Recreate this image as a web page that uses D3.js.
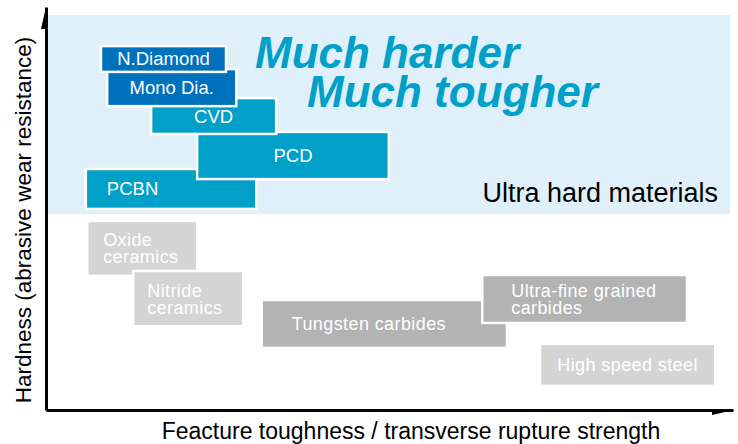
<!DOCTYPE html>
<html>
<head>
<meta charset="utf-8">
<script src="https://cdn.jsdelivr.net/npm/d3@7"></script>
<style>
  body { margin: 0; background: #fff; }
  svg { display: block; font-family: "Liberation Sans", Arial, Helvetica, sans-serif; }
</style>
</head>
<body>
<div class="chart"></div>
<script>
// materials, toughness (x) and hardness (y) ranges in arbitrary 0-100 units
const names = ["Oxide\nceramics", "Nitride\nceramics", "Tungsten carbides", "Ultra-fine grained\ncarbides", "High speed steel",
               "PCBN", "PCD", "CVD", "Mono Dia.", "N.Diamond"];
const groups = ["light", "light", "dark", "dark", "light", "ultra", "ultra", "ultra", "nd", "nd"];
const toughLo = [6.0, 12.7, 31.4, 63.5, 71.9, 5.8, 22.0, 15.3, 8.9, 8.0];
const toughHi = [22.0, 28.7, 67.1, 93.3, 97.4, 30.6, 49.9, 33.5, 27.7, 26.2];
const hardLo = [33.3, 20.8, 15.4, 21.6, 6.0, 49.9, 57.3, 68.5, 75.4, 83.9];
const hardHi = [46.9, 34.5, 27.3, 33.5, 16.4, 59.8, 69.0, 77.4, 84.6, 90.3];
const zoneTough = [0, 99.6];
const zoneHard = [48.6, 98.0];

const draw = () => {
    d3.select('.chart > *').remove();
    const width = 738, height = 444;
    const svg = d3.select(".chart")
        .append("svg")
        .attr("width", width)
        .attr("height", height);

    const x = d3.scaleLinear().domain([0, 100]).range([46, 733]);
    const y = d3.scaleLinear().domain([0, 100]).range([410, 7]);

    const fills = { light: "#d4d4d4", dark: "#b3b3b3", ultra: "#00a0c9", nd: "#0071bd" };
    // label placement per material
    const align = {
        "PCBN": ["start", 21], "Oxide\nceramics": ["start", 16], "Nitride\nceramics": ["start", 14],
        "Ultra-fine grained\ncarbides": ["start", 29], "Tungsten carbides": ["start", 30]
    };
    const lineGap = 17;

    // ultra hard zone
    svg.append("rect")
        .attr("x", x(zoneTough[0]))
        .attr("y", y(zoneHard[1]))
        .attr("width", x(zoneTough[1]) - x(zoneTough[0]))
        .attr("height", y(zoneHard[0]) - y(zoneHard[1]))
        .attr("fill", "#dff0fa");

    const data = names.map((n, i) => ({
        name: n, group: groups[i],
        x0: toughLo[i], x1: toughHi[i], y0: hardLo[i], y1: hardHi[i]
    }));

    svg.selectAll(".box")
        .data(data)
        .enter()
        .append("rect")
        .attr("class", "box")
        .attr("x", d => x(d.x0))
        .attr("y", d => y(d.y1))
        .attr("width", d => x(d.x1) - x(d.x0))
        .attr("height", d => y(d.y0) - y(d.y1))
        .attr("fill", d => fills[d.group])
        .attr("stroke", "#fff")
        .attr("stroke-width", 2.5);

    const labels = svg.selectAll(".label")
        .data(data)
        .enter()
        .append("text")
        .attr("class", "label")
        .attr("fill", "#fff")
        .attr("font-size", d => d.group === "light" || d.group === "dark" ? 18 : 18.5)
        .attr("letter-spacing", d => d.group === "light" || d.group === "dark" ? 0.4 : 0)
        .attr("text-anchor", d => align[d.name] ? "start" : "middle")
        .attr("transform", d => {
            const a = align[d.name];
            const tx = a ? x(d.x0) + a[1] : (x(d.x0) + x(d.x1)) / 2;
            const lines = d.name.split("\n").length;
            const ty = (y(d.y0) + y(d.y1)) / 2 + 6.5 - (lines - 1) * lineGap / 2;
            return "translate(" + tx + "," + ty + ")";
        });
    labels.each(function (d) {
        d3.select(this).selectAll("tspan")
            .data(d.name.split("\n"))
            .enter()
            .append("tspan")
            .attr("x", 0)
            .attr("y", (t, i) => i * lineGap)
            .text(t => t);
    });

    svg.append("text")
        .attr("x", 255).attr("y", 68)
        .attr("font-size", 44).attr("font-weight", "bold").attr("font-style", "italic")
        .attr("fill", "#00a0c9")
        .text("Much harder");
    svg.append("text")
        .attr("x", 307).attr("y", 107)
        .attr("font-size", 44).attr("font-weight", "bold").attr("font-style", "italic")
        .attr("fill", "#00a0c9")
        .text("Much tougher");
    svg.append("text")
        .attr("x", 718).attr("y", 202)
        .attr("text-anchor", "end")
        .attr("font-size", 27)
        .attr("fill", "#000")
        .text("Ultra hard materials");

    // axes
    svg.append("g")
        .attr("transform", "translate(0," + y(0) + ")")
        .call(d3.axisBottom(x).tickValues([]).tickSizeOuter(0));
    svg.append("g")
        .attr("transform", "translate(" + x(0) + ",0)")
        .call(d3.axisLeft(y).tickValues([]).tickSizeOuter(0));
    svg.selectAll(".domain").attr("stroke", "#000").attr("stroke-width", 3);

    const [xa, xb] = x.range(), [ya, yb] = y.range();
    svg.append("path")
        .attr("d", "M" + (xb + 1) + "," + ya + "L" + (xb - 21) + "," + (ya + 5) + "L" + (xb - 21) + "," + (ya - 1) + "Z")
        .attr("fill", "#000");
    svg.append("path")
        .attr("d", "M" + xa + "," + yb + "L" + (xa - 5) + "," + (yb + 22) + "L" + (xa + 1) + "," + (yb + 22) + "Z")
        .attr("fill", "#000");

    svg.append("text")
        .attr("x", 411).attr("y", 439)
        .attr("text-anchor", "middle")
        .attr("font-size", 23)
        .text("Feacture toughness / transverse rupture strength");
    svg.append("text")
        .attr("transform", "translate(31," + 220 + ") rotate(-90)")
        .attr("text-anchor", "middle")
        .attr("font-size", 22.5)
        .text("Hardness (abrasive wear resistance)");
}

draw();
</script>
</body>
</html>
